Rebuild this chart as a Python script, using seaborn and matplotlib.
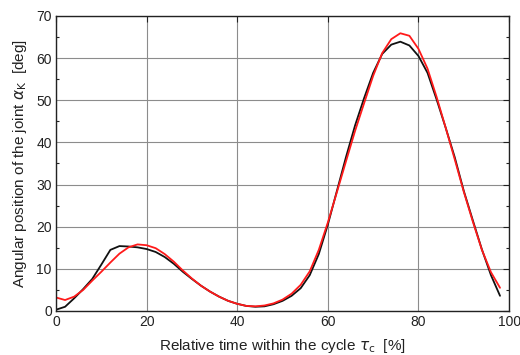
import numpy as np
import pandas as pd
import seaborn as sns
import matplotlib
matplotlib.use("Agg")
import matplotlib.pyplot as plt
from matplotlib.ticker import MultipleLocator

# Relative time within the gait cycle [%]
time_pct = list(range(0, 100, 2))

# Knee joint angle, measured trajectory [deg]
angle_measured = [0.3, 1.0, 3.0, 5.2, 7.6, 11.0, 14.5, 15.4, 15.3, 15.1,
                  14.7, 14.0, 12.8, 11.2, 9.3, 7.6, 6.0, 4.6, 3.4, 2.4,
                  1.7, 1.2, 1.0, 1.1, 1.6, 2.4, 3.6, 5.4, 8.5, 13.5,
                  20.5, 28.5, 36.5, 44.0, 50.5, 56.5, 61.0, 63.2, 63.9, 63.0,
                  60.5, 56.5, 50.2, 43.5, 36.5, 28.5, 21.5, 14.6, 8.5, 3.6]

# Knee joint angle, model trajectory [deg]
angle_model = [3.2, 2.6, 3.4, 5.0, 7.2, 9.3, 11.5, 13.6, 15.1, 15.8,
               15.6, 14.9, 13.5, 11.7, 9.6, 7.7, 6.0, 4.6, 3.4, 2.4,
               1.7, 1.2, 1.1, 1.3, 1.8, 2.7, 4.1, 6.2, 9.4, 14.5,
               21.0, 28.2, 35.5, 42.7, 49.3, 55.8, 61.2, 64.5, 65.9, 65.3,
               62.2, 57.5, 50.8, 43.5, 36.0, 28.3, 21.2, 14.5, 9.2, 5.5]

x_ticks = [0, 20, 40, 60, 80, 100]
y_ticks = [0, 10, 20, 30, 40, 50, 60, 70]

df = pd.DataFrame({
    "t": time_pct * 2,
    "angle": angle_measured + angle_model,
    "series": ["measured"] * len(time_pct) + ["model"] * len(time_pct),
})

sns.set_theme(style="white")
plt.rcParams["font.family"] = ["Liberation Sans", "DejaVu Sans"]
plt.rcParams["mathtext.fontset"] = "dejavusans"

fig = plt.figure(figsize=(5.2, 3.55), dpi=100)
ax = fig.add_axes([0.1077, 0.124, 0.8713, 0.831])

sns.lineplot(data=df, x="t", y="angle", hue="series",
             palette={"measured": "#111111", "model": "#ff1a1a"},
             linewidth=1.3, legend=False, ax=ax, sort=False)

ax.set_xlim(0, 100)
ax.set_ylim(0, 70)
ax.set_xticks(x_ticks)
ax.set_yticks(y_ticks)
ax.yaxis.set_minor_locator(MultipleLocator(5))

ax.grid(True, which="major", color="#8c8c8c", linewidth=0.8)
ax.set_axisbelow(True)
for s in ax.spines.values():
    s.set_color("#222222")
    s.set_linewidth(1.0)

ax.tick_params(axis="both", which="both", direction="in",
               top=True, right=True, colors="#222222", labelsize=10)
ax.tick_params(axis="both", which="major", length=4, width=0.8)
ax.tick_params(axis="y", which="minor", length=2.5, width=0.8, left=True, right=True)
ax.tick_params(axis="y", which="major", pad=3)
ax.tick_params(axis="x", which="major", pad=3)

ax.set_xlabel(r"Relative time within the cycle $\tau_{\mathrm{c}}$  [%]",
              fontsize=11, color="#222222", labelpad=6)
ax.set_ylabel(r"Angular position of the joint $\alpha_{\mathrm{K}}$  [deg]",
              fontsize=11, color="#222222", labelpad=5)

fig.savefig("out.png", dpi=100)
